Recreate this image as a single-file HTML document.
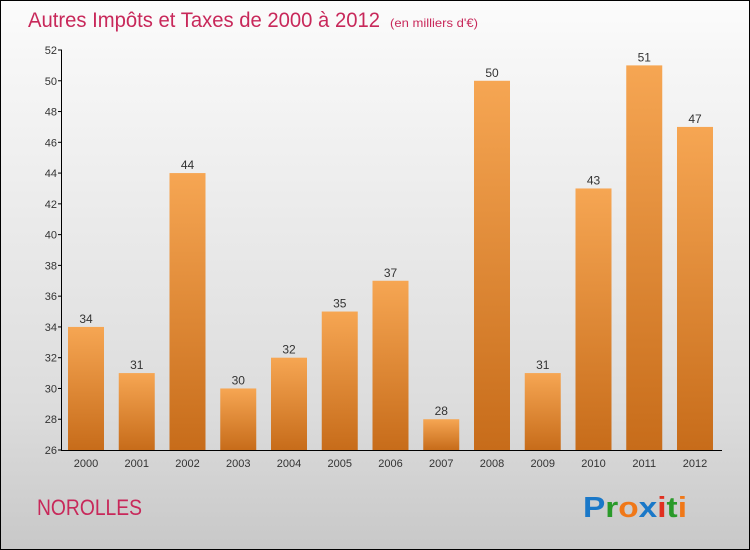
<!DOCTYPE html>
<html><head><meta charset="utf-8"><style>
body{margin:0}
#c{width:748px;height:548px;border:1px solid #000;background:linear-gradient(#fbfbfb,#dcdcdc 75%,#c8c8c8);position:relative;overflow:hidden}
svg{position:absolute;left:0;top:0}
text{font-family:"Liberation Sans",sans-serif}
</style></head><body>
<div id="c">
<svg id="s" width="748" height="548">
<defs><linearGradient id="g" x1="0" y1="0" x2="0" y2="1"><stop offset="0" stop-color="#f6a653"/><stop offset="1" stop-color="#c76c1a"/></linearGradient></defs>
<text x="27" y="26" font-size="21" fill="#c8285a" textLength="352" lengthAdjust="spacingAndGlyphs">Autres Impôts et Taxes de 2000 à 2012</text>
<text x="389" y="26" font-size="12" fill="#c8285a" textLength="88" lengthAdjust="spacingAndGlyphs">(en milliers d'€)</text>
<text x="36" y="514" font-size="22" fill="#c8285a" textLength="105" lengthAdjust="spacingAndGlyphs">NOROLLES</text>
<text x="582" y="516" font-size="29" font-weight="bold" textLength="104" lengthAdjust="spacingAndGlyphs"><tspan fill="#1a78c8">P</tspan><tspan fill="#2a9a2a">r</tspan><tspan fill="#f07818">o</tspan><tspan fill="#1a78c8">x</tspan><tspan fill="#e03020">i</tspan><tspan fill="#2a9a2a">t</tspan><tspan fill="#f07818">i</tspan></text>
<g id="plot"></g>
</svg></div>
<script>
const categories=["2000","2001","2002","2003","2004","2005","2006","2007","2008","2009","2010","2011","2012"];
const values=[34,31,44,30,32,35,37,28,50,31,43,51,47];
const yTicks=[26,28,30,32,34,36,38,40,42,44,46,48,50,52];
const NS="http://www.w3.org/2000/svg";
const g=document.getElementById('plot');
const y=v=>449-(v-26)*(400/26);
const x=i=>85+i*50.75;
function mk(t,a){const e=document.createElementNS(NS,t);for(const k in a)e.setAttribute(k,a[k]);g.appendChild(e);return e;}
values.forEach((v,i)=>{
 const r=mk('rect',{x:x(i)-18,y:y(v),width:36,height:449-y(v),fill:'url(#g)'});
 
 
 const t=mk('text',{x:x(i),y:y(v)-4,'font-size':12,'text-anchor':'middle',fill:'#333'});t.textContent=v;
 
 
 const c=mk('text',{x:x(i),y:466,'font-size':11,'text-anchor':'middle',fill:'#333'});c.textContent=categories[i];
 
 
});
yTicks.forEach(v=>{
 mk('line',{x1:57,x2:61,y1:y(v),y2:y(v),stroke:'#000'});
 const t=mk('text',{x:56,y:y(v)+4,'font-size':11,'text-anchor':'end',fill:'#333'});t.textContent=v;
 
 
});
const ya=mk('line',{x1:60.5,x2:60.5,y1:y(52),y2:449.5,stroke:'#000'});


const xa=mk('line',{x1:60,x2:721,y1:449.5,y2:449.5,stroke:'#000'});


</script>
</body></html>
